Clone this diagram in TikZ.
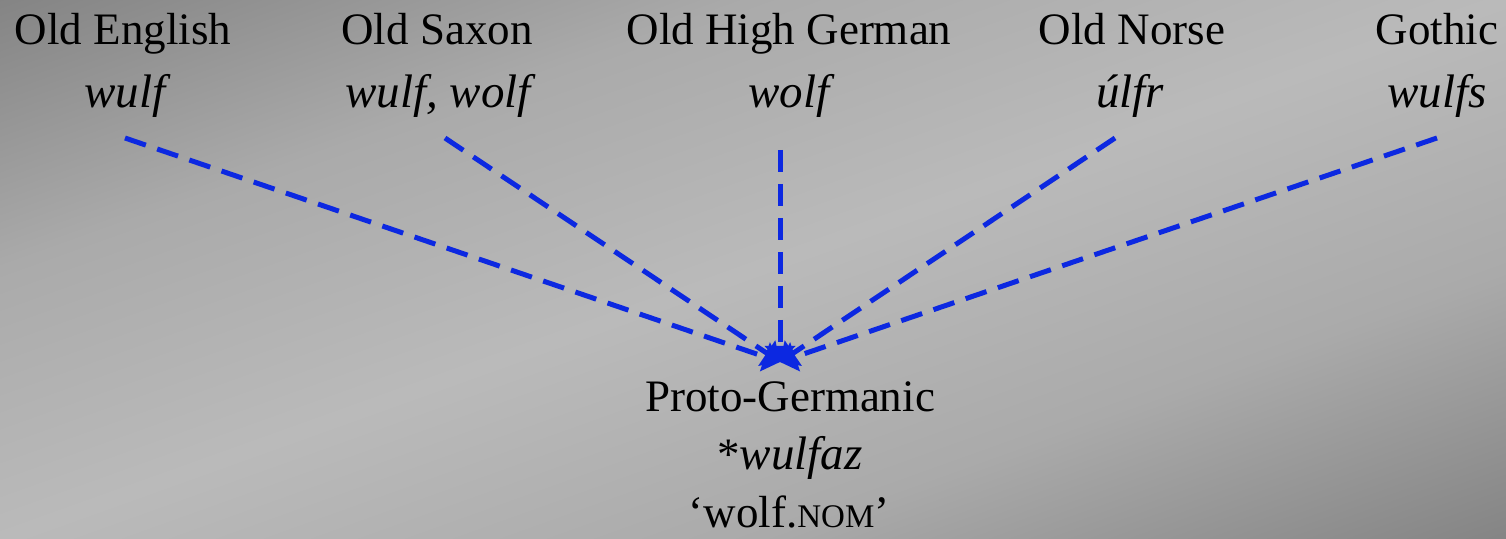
\documentclass[tikz,border=0pt]{standalone}
\usepackage{fontspec}
\setmainfont{Liberation Serif}
\usetikzlibrary{arrows.meta}
\definecolor{lnblue}{RGB}{12,40,225}
\definecolor{bgA}{RGB}{186,186,186}
\definecolor{bgB}{RGB}{170,170,170}
\definecolor{bgM}{RGB}{132,132,132}
\definecolor{bgO}{RGB}{126,126,126}
\pgfdeclarehorizontalshading{bgshade}{900bp}{color(0bp)=(bgO); color(16bp)=(bgM); color(143bp)=(bgB); color(270bp)=(bgA); color(397bp)=(bgB); color(524bp)=(bgM); color(540bp)=(bgO)}
\tikzset{
  lbl/.style={font=\fontsize{22.5}{26}\selectfont, inner sep=0pt, anchor=base, text=black},
  form/.style={font=\fontsize{23.5}{26}\selectfont\itshape, inner sep=0pt, anchor=base, text=black},
  conn/.style={draw=lnblue, line width=2.5pt, dash pattern=on 11pt off 6pt, -{Triangle[width=15pt,length=8pt]}}
}
\begin{document}
\begin{tikzpicture}[x=0.5pt,y=-0.5pt]
\useasboundingbox (0,0) rectangle (1506,539);
\begin{scope}
\clip (0,0) rectangle (1506,539);
\pgftransformshift{\pgfpoint{376.5pt}{-134.75pt}}
\pgftransformrotate{-70.3}
\pgflowlevelsynccm
\pgfuseshading{bgshade}
\end{scope}
% top nodes
\node[lbl] (oe) at (123,45) {Old English};
\node[form] (oew) at (125,108) {wulf};
\node[lbl] (os) at (437,45) {Old Saxon};
\node[form] (osw) at (438,108) {wulf, wolf};
\node[lbl] (ohg) at (789,45) {Old High German};
\node[form] (ohgw) at (789,108) {wolf};
\node[lbl] (on) at (1132,45) {Old Norse};
\node[form] (onw) at (1130,108) {úlfr};
\node[lbl] (go) at (1437,45) {Gothic};
\node[form] (gow) at (1437,108) {wulfs};
% bottom node
\node[lbl] (pg) at (790,412) {Proto-Germanic};
\node[lbl] (pgw) at (790,470) {*{\fontsize{23.5}{26}\selectfont\itshape wulfaz}};
\node[lbl] (pgg) at (789,528) {‘wolf.{\fontsize{16.5}{18}\selectfont NOM}’};
% connector ends
\coordinate (oes) at (125,138);
\coordinate (oss) at (445,138);
\coordinate (ohgs) at (780,150);
\coordinate (ons) at (1115,138);
\coordinate (gos) at (1437,138);
\coordinate (pgt) at (780,362);
\draw[conn] (oes) -- (pgt);
\draw[conn] (oss) -- (pgt);
\draw[conn] (ohgs) -- (pgt);
\draw[conn] (ons) -- (pgt);
\draw[conn] (gos) -- (pgt);
\end{tikzpicture}
\end{document}
